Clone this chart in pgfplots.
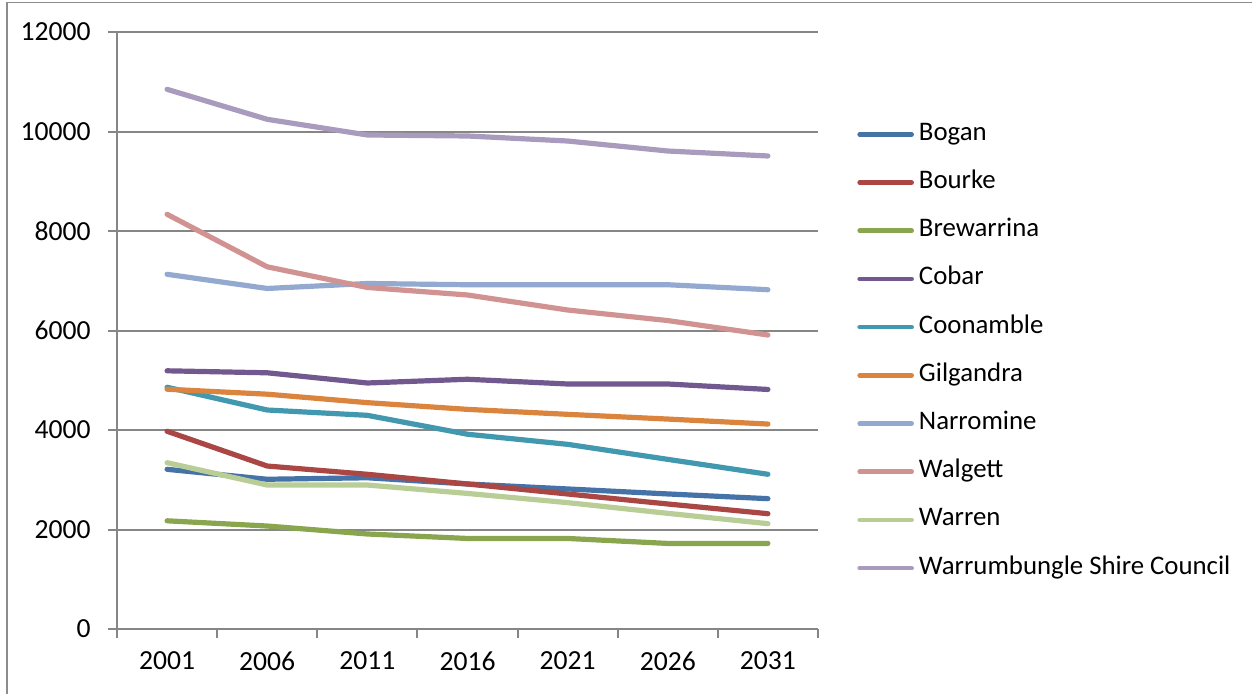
\documentclass[border=0pt]{standalone}
\usepackage{pgfplots}
\pgfplotsset{compat=1.18}
\usepackage{fontspec}
\setmainfont{Carlito}

\definecolor{framegray}{HTML}{8C8C8C}
\definecolor{axisgray}{HTML}{868686}
\definecolor{cBogan}{HTML}{4572A7}
\definecolor{cBourke}{HTML}{AA4643}
\definecolor{cBrewarrina}{HTML}{89A54E}
\definecolor{cCobar}{HTML}{71588F}
\definecolor{cCoonamble}{HTML}{4198AF}
\definecolor{cGilgandra}{HTML}{DB843D}
\definecolor{cNarromine}{HTML}{93A9CF}
\definecolor{cWalgett}{HTML}{D19392}
\definecolor{cWarren}{HTML}{B9CD96}
\definecolor{cWarrumbungle}{HTML}{A99BBD}

\begin{document}
\begin{tikzpicture}
\useasboundingbox (0,0) rectangle (626pt,346.5pt);
% outer chart frame
\draw[framegray, line width=0.8pt] (3.5pt,-10pt) -- (3.5pt,345.2pt) -- (640pt,345.2pt);
\begin{axis}[
  at={(58.5pt,32pt)}, anchor=south west,
  scale only axis, width=350.5pt, height=298.5pt,
  xmin=-0.5, xmax=6.5, ymin=0, ymax=12000,
  axis lines=left,
  axis line style={-, draw=axisgray, line width=1pt},
  tick align=outside,
  major tick length=4.5pt,
  tick style={draw=axisgray, line width=1pt},
  ymajorgrids,
  grid style={draw=axisgray, line width=1pt},
  ytick={0,2000,4000,6000,8000,10000,12000},
  scaled y ticks=false,
  xtick={-0.5,0.5,1.5,2.5,3.5,4.5,5.5,6.5},
  xticklabels={},
  extra x ticks={0,1,2,3,4,5,6},
  extra x tick labels={2001,2006,2011,2016,2021,2026,2031},
  extra x tick style={major tick length=0pt, grid=none},
  /pgf/number format/1000 sep={},
  /pgf/number format/assume math mode=true,
  yticklabel={\pgfmathprintnumber[fixed,precision=0]{\tick}},
  ticklabel style={font=\fontsize{13.8}{15}\selectfont},
  yticklabel style={xshift=-5.2pt},
  xticklabel style={yshift=-8pt},
  legend style={
    draw=none, fill=none,
    at={(axis description cs:1.0556,0.8493)}, anchor=north west,
    inner sep=0pt,
    font=\fontsize{13.4}{15}\selectfont,
    nodes={inner sep=0pt, text height=9pt, text depth=3pt},
    row sep=12.1pt, column sep=2.5pt,
  },
  legend cell align=left,
  legend image code/.code={\draw[#1, line width=2.3pt, line cap=round] (1pt,0pt) -- (27pt,0pt);},
  every axis plot/.append style={line width=2.6pt, line cap=round, line join=round, mark=none},
]
\addplot[cBogan] coordinates {(0,3210) (1,3010) (2,3040) (3,2915) (4,2815) (5,2715) (6,2620)};
\addlegendentry{Bogan}
\addplot[cBourke] coordinates {(0,3975) (1,3276) (2,3110) (3,2915) (4,2714) (5,2513) (6,2318)};
\addlegendentry{Bourke}
\addplot[cBrewarrina] coordinates {(0,2175) (1,2070) (2,1910) (3,1820) (4,1820) (5,1720) (6,1720)};
\addlegendentry{Brewarrina}
\addplot[cCobar] coordinates {(0,5190) (1,5150) (2,4945) (3,5020) (4,4925) (5,4925) (6,4815)};
\addlegendentry{Cobar}
\addplot[cCoonamble] coordinates {(0,4860) (1,4402) (2,4295) (3,3915) (4,3712) (5,3410) (6,3110)};
\addlegendentry{Coonamble}
\addplot[cGilgandra] coordinates {(0,4820) (1,4720) (2,4550) (3,4415) (4,4315) (5,4220) (6,4120)};
\addlegendentry{Gilgandra}
\addplot[cNarromine] coordinates {(0,7130) (1,6845) (2,6945) (3,6920) (4,6920) (5,6920) (6,6820)};
\addlegendentry{Narromine}
\addplot[cWalgett] coordinates {(0,8336) (1,7280) (2,6865) (3,6714) (4,6412) (5,6200) (6,5910)};
\addlegendentry{Walgett}
\addplot[cWarren] coordinates {(0,3343) (1,2894) (2,2894) (3,2725) (4,2540) (5,2325) (6,2117)};
\addlegendentry{Warren}
\addplot[cWarrumbungle] coordinates {(0,10848) (1,10245) (2,9930) (3,9910) (4,9809) (5,9608) (6,9508)};
\addlegendentry{Warrumbungle Shire Council}
\end{axis}
\end{tikzpicture}
\end{document}
